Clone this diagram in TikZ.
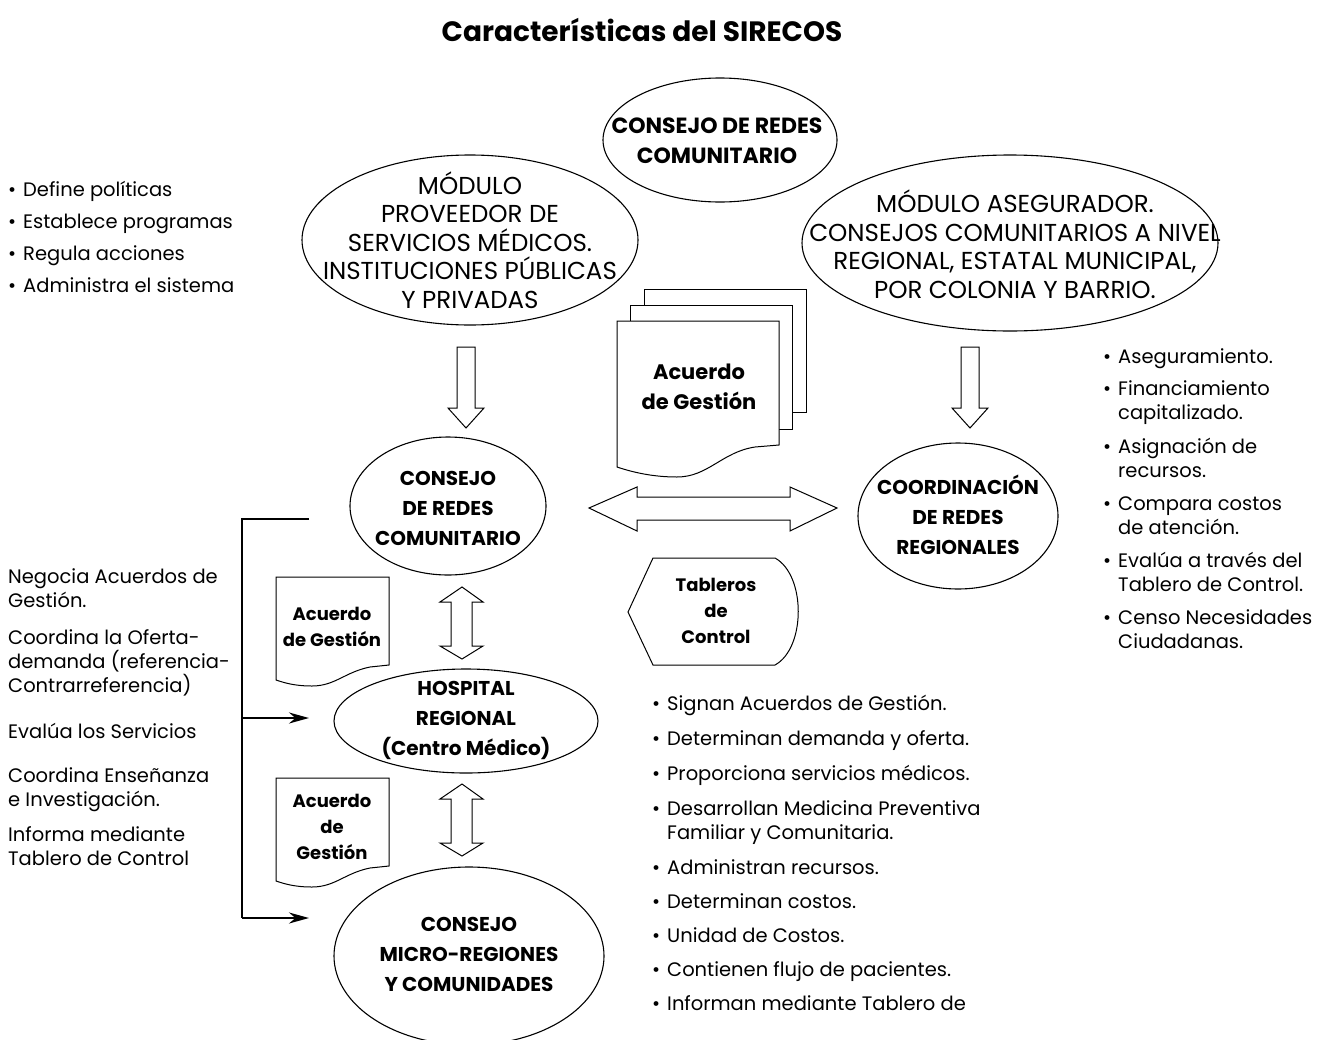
\documentclass[tikz,border=0pt]{standalone}
\usepackage{fontspec}
\setmainfont{Poppins}
\usetikzlibrary{shapes.geometric,arrows.meta}
\newcommand\bul{\makebox[15pt][l]{•}}
\newcommand\ind{\hspace*{15pt}}
\begin{document}
\begin{tikzpicture}[x=1pt,y=-1pt,
  ell/.style={draw, line width=1.1pt, ellipse, inner sep=0pt, fill=white},
  bt/.style={font=\fontsize{20}{30}\selectfont\bfseries, align=center, inner sep=0pt},
  rt/.style={font=\fontsize{24.5}{28.5}\selectfont, align=center, inner sep=0pt},
  lst/.style={font=\fontsize{19.5}{24}\selectfont, align=left, inner sep=0pt, anchor=base west},
  hollow/.style={draw, line width=1pt, fill=white, line join=miter},
  page/.style={draw, line width=1pt, fill=white},
  bracket/.style={line width=2.2pt},
  barrow/.style={line width=2.2pt, -{Stealth[length=20pt,width=11pt]}}]
\useasboundingbox (0,0) rectangle (1317,1039);

% title
\node[font=\fontsize{28}{32}\selectfont\bfseries, inner sep=0pt] (title) at (642,30) {Características del SIRECOS};

% upper modules
\node[ell, minimum width=336pt, minimum height=170pt] (prov) at (470,240) {};
\node[ell, minimum width=416pt, minimum height=176pt] (aseg) at (1010,243) {};
\node[ell, minimum width=234pt, minimum height=124pt] (ctop) at (720,140) {};
\node[bt, font=\fontsize{22}{30}\selectfont\bfseries] (ctopT) at (717,141) {CONSEJO DE REDES\\COMUNITARIO};
\node[rt] (provT) at (470,240) {MÓDULO\\PROVEEDOR DE\\SERVICIOS MÉDICOS.\\INSTITUCIONES PÚBLICAS\\Y PRIVADAS};
\node[rt] (asegT) at (1015,244) {MÓDULO ASEGURADOR.\\CONSEJOS COMUNITARIOS A NIVEL\\REGIONAL, ESTATAL MUNICIPAL,\\POR COLONIA Y BARRIO.};

% left bullets (anchored on the baseline of the last line)
\node[lst, font=\fontsize{19.5}{31.7}\selectfont] (pol) at (8,292)
  {\bul Define políticas\\\bul Establece programas\\\bul Regula acciones\\\bul Administra el sistema};

% hollow down arrows
\draw[hollow] (457,347) -- (475,347) -- (475,408) -- (484,408) -- (466,428) -- (448,408) -- (457,408) -- cycle;
\draw[hollow] (961,347) -- (979,347) -- (979,408) -- (988,408) -- (970,428) -- (952,408) -- (961,408) -- cycle;

% stacked agreement documents
\draw[page] (644,289) rectangle (806,412);
\draw[page] (630,305) rectangle (792,429);
\draw[page] (617,321) -- (779,321) -- (779,445) -- (755,447)
  .. controls (722,452) and (708,477) .. (677,477)
  .. controls (652,477) and (632,472) .. (617,467) -- cycle;
\node[bt, font=\fontsize{21}{30}\selectfont\bfseries] (docT) at (699,387) {Acuerdo\\de Gestión};

% horizontal double arrow
\draw[hollow] (589,508) -- (637,487) -- (637,497) -- (790,497) -- (790,487) -- (837,508)
  -- (790,531) -- (790,520) -- (637,520) -- (637,531) -- cycle;

% middle level
\node[ell, minimum width=196pt, minimum height=138pt] (cred) at (448,506) {};
\node[bt] (credT) at (448,508) {CONSEJO\\DE REDES\\COMUNITARIO};
\node[ell, minimum width=200pt, minimum height=146pt] (coord) at (958,516) {};
\node[bt] (coordT) at (958,515) {COORDINACIÓN\\DE REDES\\REGIONALES};

% right bullets
\node[lst] (r1) at (1103,363) {\bul Aseguramiento.};
\node[lst] (r2) at (1103,419) {\bul Financiamiento\\\ind capitalizado.};
\node[lst] (r3) at (1103,477) {\bul Asignación de\\\ind recursos.};
\node[lst] (r4) at (1103,534) {\bul Compara costos\\\ind de atención.};
\node[lst] (r5) at (1103,591) {\bul Evalúa a través del\\\ind Tablero de Control.};
\node[lst] (r6) at (1103,648) {\bul Censo Necesidades\\\ind Ciudadanas.};

% control panel
\draw[hollow] (628,612) -- (653,558) -- (775,558)
  .. controls (806,575) and (806,648) .. (775,665) -- (653,665) -- cycle;
\node[bt, font=\fontsize{18}{26}\selectfont\bfseries] (tabT) at (716,611) {Tableros\\de\\Control};

% bracket with arrows
\coordinate (bTop) at (309,519);
\coordinate (bCorner) at (242,519);
\coordinate (bMid) at (242,718);
\coordinate (bBot) at (242,918);
\coordinate (tipMid) at (309,718);
\coordinate (tipBot) at (309,918);
\draw[bracket, line join=miter] (bTop) -- (bCorner) -- (bBot);
\draw[barrow] (bMid) -- (tipMid);
\draw[barrow] (bBot) -- (tipBot);

% left functions
\node[lst] (l1) at (8,607) {Negocia Acuerdos de\\Gestión.};
\node[lst] (l2) at (8,692) {Coordina la Oferta-\\demanda (referencia-\\Contrarreferencia)};
\node[lst] (l3) at (8,738) {Evalúa los Servicios};
\node[lst] (l4) at (8,806) {Coordina Enseñanza\\e Investigación.};
\node[lst] (l5) at (8,865) {Informa mediante\\Tablero de Control};

% small agreement documents
\draw[page] (276,577) -- (389,577) -- (389,665) -- (370,667)
  .. controls (345,672) and (335,686) .. (312,686)
  .. controls (295,686) and (285,683) .. (276,680) -- cycle;
\node[bt, font=\fontsize{18}{26}\selectfont\bfseries] (d1T) at (332,627) {Acuerdo\\de Gestión};
\begin{scope}[shift={(0,201)}]
\draw[page] (276,577) -- (389,577) -- (389,665) -- (370,667)
  .. controls (345,672) and (335,686) .. (312,686)
  .. controls (295,686) and (285,683) .. (276,680) -- cycle;
\end{scope}
\node[bt, font=\fontsize{18}{26}\selectfont\bfseries] (d2T) at (332,827) {Acuerdo\\de\\Gestión};

% vertical double arrows
\draw[hollow] (462,587) -- (483,602) -- (472,602) -- (472,646) -- (483,646) -- (462,659)
  -- (440,646) -- (451,646) -- (451,602) -- (440,602) -- cycle;
\draw[hollow] (462,784) -- (483,799) -- (472,799) -- (472,843) -- (483,843) -- (462,856)
  -- (440,843) -- (451,843) -- (451,799) -- (440,799) -- cycle;

% lower level
\node[ell, minimum width=264pt, minimum height=104pt] (hosp) at (466,721) {};
\node[bt] (hospT) at (466,720) {HOSPITAL\\REGIONAL\\(Centro Médico)};
\node[ell, minimum width=270pt, minimum height=178pt] (micro) at (469,956) {};
\node[bt] (microT) at (469,954) {CONSEJO\\MICRO-REGIONES\\Y COMUNIDADES};

% bottom bullets
\node[lst] (b1) at (652,710) {\bul Signan Acuerdos de Gestión.};
\node[lst] (b2) at (652,745) {\bul Determinan demanda y oferta.};
\node[lst] (b3) at (652,780) {\bul Proporciona servicios médicos.};
\node[lst] (b4) at (652,839) {\bul Desarrollan Medicina Preventiva\\\ind Familiar y Comunitaria.};
\node[lst] (b5) at (652,874) {\bul Administran recursos.};
\node[lst] (b6) at (652,908) {\bul Determinan costos.};
\node[lst] (b7) at (652,942) {\bul Unidad de Costos.};
\node[lst] (b8) at (652,976) {\bul Contienen flujo de pacientes.};
\node[lst] (b9) at (652,1010) {\bul Informan mediante Tablero de};
\end{tikzpicture}
\end{document}
